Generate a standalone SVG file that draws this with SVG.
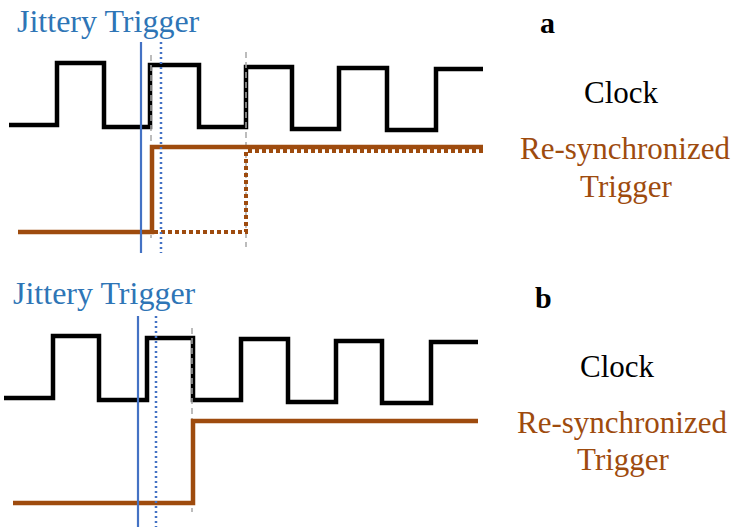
<svg xmlns="http://www.w3.org/2000/svg" width="746" height="531" viewBox="0 0 746 531">
  <style>
    .clk { fill: none; stroke: #000; stroke-width: 4.5; stroke-linejoin: miter; }
    .sync { fill: none; stroke: #9E4B0E; stroke-width: 4.5; }
    .sync-late { fill: none; stroke: #9E4B0E; stroke-width: 4; stroke-dasharray: 4 3; }
    .edge { fill: none; stroke: #A6A6A6; stroke-width: 1.5; stroke-dasharray: 6 4; }
    .jit { fill: none; stroke: #4472C4; stroke-width: 2.2; }
    .jit-alt { fill: none; stroke: #4472C4; stroke-width: 2.5; stroke-dasharray: 2 3; }
    .lbl { font-family: 'Liberation Serif', 'DejaVu Serif', serif; font-size: 31px; font-weight: normal; }
    .trig-label { fill: #2E75B6; font-size: 32px; }
    .clk-label { fill: #000; text-anchor: middle; }
    .sync-label { fill: #9E4B0E; text-anchor: middle; }
    .panel { font-family: 'Liberation Serif', 'DejaVu Serif', serif; font-weight: bold; fill: #000; font-size: 30px; }
  </style>

  <!-- Panel a: trigger re-synchronized to the next clock edge -->
  <g id="panel-a">
    <text class="lbl trig-label" x="17" y="32">Jittery Trigger</text>
    <text class="panel" x="540" y="33">a</text>
    <g id="a-clock">
      <path class="clk" d="M9,125 H57 V63 H104 V127 H150 V65 H199 V127 H246 V67 H292 V129 H339 V68 H387 V130 H436 V69 H483"/>
      <text class="lbl clk-label" x="621" y="103">Clock</text>
    </g>
    <g id="a-edges">
      <line class="edge" x1="151" y1="55" x2="151" y2="238"/>
      <line class="edge" x1="246" y1="52" x2="246" y2="247"/>
    </g>
    <g id="a-sync">
      <path class="sync-late" d="M154,232 H246 V151 H483"/>
      <path class="sync" d="M18,232 H152 V147 H483"/>
      <text class="lbl sync-label" x="625" y="159">Re-synchronized</text>
      <text class="lbl sync-label" x="626" y="197">Trigger</text>
    </g>
    <g id="a-jitter">
      <line class="jit" x1="141" y1="42" x2="141" y2="253"/>
      <line class="jit-alt" x1="161" y1="42" x2="161" y2="253"/>
    </g>
  </g>

  <!-- Panel b: both trigger positions fall in the same clock cycle -->
  <g id="panel-b">
    <text class="lbl trig-label" x="13" y="304">Jittery Trigger</text>
    <text class="panel" x="535" y="308">b</text>
    <g id="b-clock">
      <path class="clk" d="M4,398 H53 V336 H99 V400 H147 V338 H193 V400 H241 V339 H288 V402 H336 V341 H382 V403 H431 V342 H478"/>
      <text class="lbl clk-label" x="617" y="377">Clock</text>
    </g>
    <g id="b-edges">
      <line class="edge" x1="192" y1="328" x2="192" y2="512"/>
    </g>
    <g id="b-sync">
      <path class="sync" d="M13,503 H193 V421 H478"/>
      <text class="lbl sync-label" x="622" y="433">Re-synchronized</text>
      <text class="lbl sync-label" x="623" y="470">Trigger</text>
    </g>
    <g id="b-jitter">
      <line class="jit" x1="138" y1="316" x2="138" y2="527"/>
      <line class="jit-alt" x1="156" y1="316" x2="156" y2="527"/>
    </g>
  </g>
</svg>
